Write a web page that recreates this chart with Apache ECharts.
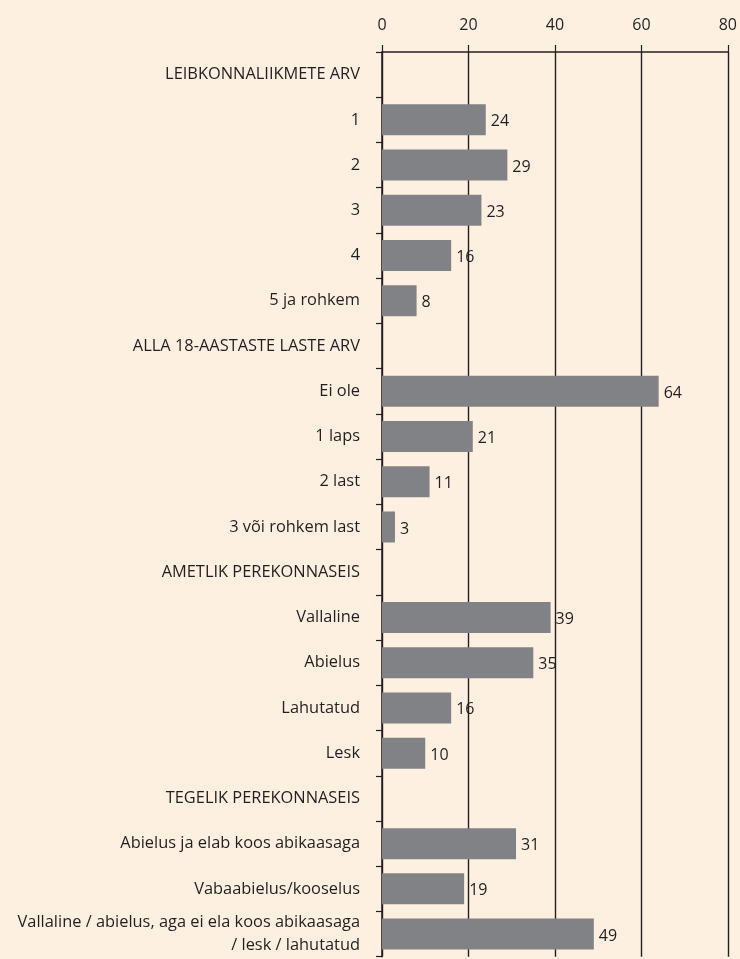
<!DOCTYPE html>
<html>
<head>
<meta charset="utf-8">
<script src="https://cdn.jsdelivr.net/npm/echarts@6/dist/echarts.min.js"></script>
<style>
  html, body { margin: 0; padding: 0; background: #fdf0e1; }
  #chart { width: 740px; height: 959px; }
</style>
</head>
<body>
<div id="chart"></div>
<script>
// kategooriad (pealkirjad ilma tulbata)
const categories = [
  'LEIBKONNALIIKMETE ARV', '1', '2', '3', '4', '5 ja rohkem',
  'ALLA 18-AASTASTE LASTE ARV', 'Ei ole', '1 laps', '2 last', '3 või rohkem last',
  'AMETLIK PEREKONNASEIS', 'Vallaline', 'Abielus', 'Lahutatud', 'Lesk',
  'TEGELIK PEREKONNASEIS', 'Abielus ja elab koos abikaasaga', 'Vabaabielus/kooselus',
  'Vallaline / abielus, aga ei ela koos abikaasaga\n/ lesk / lahutatud'
];
const values = [
  null, 24, 29, 23, 16, 8,
  null, 64, 21, 11, 3,
  null, 39, 35, 16, 10,
  null, 31, 19, 49
];
const xTicks = [0, 20, 40, 60, 80];

const ink = '#231f20';
const chart = echarts.init(document.getElementById('chart'));
chart.setOption({
  backgroundColor: '#fdf0e1',
  animation: false,
  textStyle: { fontFamily: 'Open Sans', color: ink },
  grid: { left: 382, right: 9, top: 52, bottom: -2, containLabel: false },
  xAxis: {
    type: 'value',
    position: 'top',
    min: xTicks[0],
    max: xTicks[xTicks.length - 1],
    interval: 20,
    axisLine: { show: true, lineStyle: { color: ink, width: 1.5 } },
    axisTick: { show: true, length: 7, lineStyle: { color: ink, width: 1.2 } },
    axisLabel: { margin: 19, fontSize: 16, color: ink, fontFamily: 'Open Sans' },
    splitLine: { show: true, lineStyle: { color: ink, width: 1.4 } }
  },
  yAxis: {
    type: 'category',
    inverse: true,
    data: categories,
    axisLine: { show: true, lineStyle: { color: ink, width: 1.5 } },
    axisTick: { show: true, length: 6, lineStyle: { color: ink, width: 1.2 } },
    axisLabel: {
      margin: 22, fontSize: 16.4, color: ink, fontFamily: 'Open Sans',
      lineHeight: 23, align: 'right', padding: [4, 0, 0, 0]
    }
  },
  series: [{
    type: 'bar',
    data: values,
    barWidth: 31,
    itemStyle: { color: '#808285' },
    label: {
      show: true, position: 'right', distance: 5, offset: [0, 2],
      fontSize: 16, color: ink, fontFamily: 'Open Sans'
    }
  }]
});
</script>
</body>
</html>
